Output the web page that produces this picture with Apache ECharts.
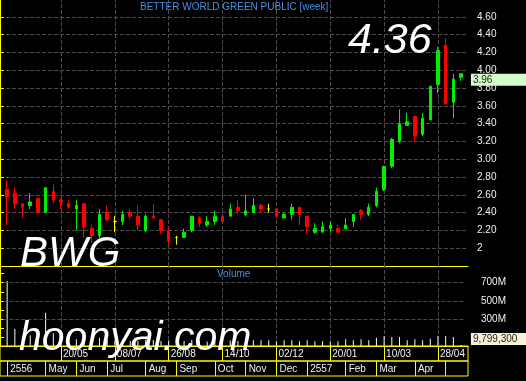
<!DOCTYPE html>
<html><head><meta charset="utf-8">
<script src="https://cdn.jsdelivr.net/npm/echarts@6/dist/echarts.min.js"></script>
<style>html,body{margin:0;padding:0;background:#000;}#c{width:526px;height:381px;}</style>
</head><body><div id="c"></div>
<script>
// ---- data (weekly candles, Thai broker chart) ----
const weeks = ['01/04/13','08/04/13','15/04/13','22/04/13','29/04/13','06/05/13','13/05/13','20/05/13','27/05/13','03/06/13',
 '10/06/13','17/06/13','24/06/13','01/07/13','08/07/13','15/07/13','22/07/13','29/07/13','05/08/13','12/08/13',
 '19/08/13','26/08/13','02/09/13','09/09/13','16/09/13','23/09/13','30/09/13','07/10/13','14/10/13','21/10/13',
 '28/10/13','04/11/13','11/11/13','18/11/13','25/11/13','02/12/13','09/12/13','16/12/13','23/12/13','30/12/13',
 '06/01/14','13/01/14','20/01/14','27/01/14','03/02/14','10/02/14','17/02/14','24/02/14','03/03/14','10/03/14',
 '17/03/14','24/03/14','31/03/14','07/04/14','14/04/14','21/04/14','28/04/14','05/05/14','12/05/14','19/05/14'];
const openP  = [2.66,2.62,2.50,2.48,2.56,2.40,2.64,2.54,2.50,2.44, 2.50,2.22,2.14,2.40,2.30,2.30,2.40,2.36,2.20,2.36,
 2.32,2.20,2.12,2.12,2.20,2.34,2.26,2.30,2.36,2.36, 2.46,2.38,2.40,2.48,2.44,2.44,2.34,2.38,2.46,2.36,
 2.18,2.18,2.22,2.22,2.22,2.30,2.42,2.38,2.48,2.66, 2.92,3.20,3.38,3.48,3.28,3.44,3.84,4.28,3.64,3.92];
const closeP = [2.58,2.50,2.46,2.52,2.40,2.68,2.54,2.52,2.46,2.48, 2.24,2.14,2.38,2.32,2.30,2.38,2.36,2.26,2.36,2.34,
 2.20,2.08,2.12,2.18,2.36,2.28,2.30,2.36,2.30,2.44, 2.42,2.42,2.48,2.44,2.44,2.36,2.38,2.46,2.38,2.24,
 2.22,2.24,2.26,2.18,2.26,2.38,2.38,2.46,2.64,2.92, 3.22,3.40,3.42,3.26,3.46,3.82,4.22,3.62,3.90,3.96];
const lowP   = [2.26,2.44,2.34,2.44,2.40,2.40,2.50,2.44,2.44,2.20, 2.12,2.06,2.10,2.30,2.18,2.26,2.32,2.20,2.18,2.34,
 2.16,2.04,2.04,2.12,2.18,2.24,2.24,2.26,2.30,2.36, 2.38,2.36,2.40,2.40,2.40,2.36,2.34,2.32,2.26,2.16,
 2.16,2.18,2.18,2.18,2.22,2.24,2.32,2.36,2.46,2.64, 2.90,3.18,3.38,3.20,3.26,3.44,3.74,3.62,3.46,3.88];
const highP  = [2.76,2.68,2.50,2.62,2.56,2.68,2.72,2.56,2.54,2.54, 2.50,2.26,2.44,2.48,2.36,2.42,2.44,2.48,2.38,2.50,
 2.32,2.24,2.14,2.22,2.36,2.36,2.36,2.42,2.36,2.50, 2.54,2.60,2.56,2.50,2.50,2.44,2.40,2.50,2.46,2.36,
 2.28,2.30,2.30,2.26,2.34,2.38,2.44,2.50,2.68,2.92, 3.24,3.56,3.52,3.48,3.52,3.82,4.26,4.36,3.96,3.96];
const volumeM = [719,189,95,120,110,367,140,80,70,75, 75,85,90,65,60,75,55,55,70,65,
 55,60,50,55,65,55,50,60,55,60, 55,63,63,63,63,52,63,63,52,63,
 52,52,52,52,74,63,74,63,92,110, 100,100,63,74,63,81,110,110,100,9.7993];
const gridWeeks = ['20/05/13','08/07/13','26/08/13','14/10/13','02/12/13','20/01/14','10/03/14','28/04/14'];
const monthStarts = ['01/04/13','06/05/13','03/06/13','01/07/13','05/08/13','02/09/13','07/10/13','04/11/13','02/12/13','30/12/13','03/02/14','03/03/14','07/04/14','05/05/14'];
const monthNames  = ['2556','May','Jun','Jul','Aug','Sep','Oct','Nov','Dec','2557','Feb','Mar','Apr',''];
const priceTicks = [2.0,2.2,2.4,2.6,2.8,3.0,3.2,3.4,3.6,3.8,4.0,4.2,4.4,4.6];
const volTicksM = [300,500,700];
const lastPrice = 3.96;
const lastVolume = 9799300;

// ---- chart ----
const FONT = '"Liberation Sans", Arial, sans-serif';
const YEL = '#ffff00';
const GREEN = '#00ee00', RED = '#ff0000';
const CL = 3.3, CR = 61.1;     // candle band area
const FL = 0, FR = 58;         // frame (axis line at x=468)
const NOLINE = {color: 'rgba(0,0,0,0)', width: 0};
function dash() { return {color: '#4c4c4c', type: 'dashed'}; }

const gridSet = new Set(gridWeeks.map(w => weeks.indexOf(w)));
const monthIdx = monthStarts.map(w => weeks.indexOf(w));
const candleData = weeks.map((w, i) => [openP[i], closeP[i], lowP[i], highP[i]]);
const volData = volumeM.map(v => v * 1e6);

function grid(left, right, top, height, extra) {
  return Object.assign({left, right, top, height, outerBoundsMode: 'none', containLabel: false}, extra || {});
}
function hiddenValueX(gi) {
  return {type: 'value', gridIndex: gi, min: 0, max: 1, show: true,
    axisLine: {show: false}, axisTick: {show: false}, axisLabel: {show: false}, splitLine: {show: false}};
}
function hiddenY(gi, min, max) {
  return {type: 'value', gridIndex: gi, min, max, show: false, splitLine: {show: false}};
}

const option = {
  backgroundColor: '#000',
  animation: false,
  title: [
    {text: 'BETTER WORLD GREEN PUBLIC [week]', left: 140, top: 2, padding: 0,
     textStyle: {color: '#4a8fe0', fontSize: 10, fontWeight: 'normal', fontFamily: FONT}},
    {text: 'Volume', left: 217, top: 269, padding: 0,
     textStyle: {color: '#4a8fe0', fontSize: 10, fontWeight: 'normal', fontFamily: FONT}},
    {text: '4.36', left: 348, top: 20, padding: 0,
     textStyle: {color: '#ffffff', fontSize: 43, fontStyle: 'italic', fontWeight: 'normal', fontFamily: FONT}},
    {text: 'BWG', left: 20, top: 233, padding: 0,
     textStyle: {color: '#ffffff', fontSize: 42, fontStyle: 'italic', fontWeight: 'normal', fontFamily: FONT}},
    {text: 'hoonyai.com', left: 19, top: 318, padding: 0,
     textStyle: {color: '#ffffff', fontSize: 41, fontStyle: 'italic', fontWeight: 'normal', fontFamily: FONT}}
  ],
  grid: [
    grid(FL, FR, -1, 267),          // 0 price frame
    grid(CL, CR, -1, 267),          // 1 candles
    grid(FL, FR, 266, 80),          // 2 volume frame
    grid(CL, CR, 266, 80),          // 3 volume bars
    grid(FL, FR, 346, 15, {show: true, borderColor: YEL, borderWidth: 1, backgroundColor: 'transparent'}), // 4 row1 frame
    grid(CL, CR, 346, 15),          // 5 row1 labels
    grid(FL, FR, 361, 15, {show: true, borderColor: YEL, borderWidth: 1, backgroundColor: 'transparent'}), // 6 row2 frame
    grid(CL, CR, 361, 15)           // 7 row2 labels
  ],
  xAxis: [
    Object.assign(hiddenValueX(0), {axisLine: {show: true, lineStyle: {color: YEL}}}),
    {type: 'category', gridIndex: 1, data: weeks, boundaryGap: true,
     axisLine: {show: false}, axisLabel: {show: false},
     axisTick: {show: true, inside: true, alignWithLabel: true, length: 267,
       interval: (i) => gridSet.has(i), lineStyle: dash()}},
    Object.assign(hiddenValueX(2), {axisLine: {show: true, lineStyle: {color: YEL}}}),
    {type: 'category', gridIndex: 3, data: weeks, boundaryGap: true,
     axisLine: {show: false}, axisLabel: {show: false},
     axisTick: {show: true, inside: true, alignWithLabel: true, length: 80,
       interval: (i) => gridSet.has(i), lineStyle: dash()}},
    hiddenValueX(4),
    {type: 'category', gridIndex: 5, data: weeks, boundaryGap: true, position: 'bottom',
     axisLine: {show: false},
     axisTick: {show: true, inside: true, alignWithLabel: true, length: 15,
       interval: (i) => gridSet.has(i), lineStyle: {color: YEL}},
     axisLabel: {show: true, inside: true, margin: 2, interval: (i) => gridSet.has(i),
       formatter: (v) => v.slice(0, 5), align: 'left', padding: [0, 0, 0, 2],
       color: '#f0f0f0', fontSize: 10, fontFamily: FONT}},
    hiddenValueX(6),
    {type: 'category', gridIndex: 7, data: weeks, boundaryGap: true, position: 'bottom',
     axisLine: {show: false},
     axisTick: {show: true, inside: true, alignWithLabel: true, length: 15,
       interval: (i) => monthIdx.includes(i), lineStyle: {color: YEL}},
     axisLabel: {show: true, inside: true, margin: 2, interval: (i) => monthIdx.includes(i),
       formatter: (v, i) => monthNames[monthIdx.indexOf(i)] || '', align: 'left', padding: [0, 0, 0, 3],
       color: '#f0f0f0', fontSize: 10, fontFamily: FONT}}
  ],
  yAxis: [
    {type: 'value', gridIndex: 0, position: 'right', min: 1.8, max: 4.8, interval: 0.2,
     axisLine: {show: true, lineStyle: {color: YEL}},
     axisTick: {show: true, length: 4, lineStyle: {color: YEL}},
     axisLabel: {show: true, margin: 9, color: '#f0f0f0', fontSize: 10, fontFamily: FONT,
       showMinLabel: false, showMaxLabel: false,
       formatter: (v) => {
         const t = priceTicks.find(p => Math.abs(p - v) < 1e-6);
         if (t === undefined) return '';
         return Math.abs(t - 2) < 1e-6 ? '2' : t.toFixed(2);
       }},
     splitLine: {show: true, showMinLine: false, lineStyle: dash()}},
    hiddenY(1, 1.8, 4.8),
    {type: 'value', gridIndex: 2, position: 'right', min: 0, max: 885e6, interval: 1e8,
     axisLine: {show: true, lineStyle: {color: YEL}},
     axisTick: {show: true, length: 4, lineStyle: {color: YEL}},
     axisLabel: {show: true, margin: 13, color: '#f0f0f0', fontSize: 10, fontFamily: FONT,
       showMinLabel: false, showMaxLabel: false,
       formatter: (v) => volTicksM.includes(Math.round(v / 1e6)) ? Math.round(v / 1e6) + 'M' : ''},
     splitLine: {show: false}},
    hiddenY(3, 0, 885e6),
    hiddenY(4, 0, 1),
    hiddenY(5, 0, 1),
    hiddenY(6, 0, 1),
    hiddenY(7, 0, 1)
  ],
  series: [
    {type: 'candlestick', xAxisIndex: 1, yAxisIndex: 1, data: candleData, barWidth: 3,
     itemStyle: {color: GREEN, color0: RED, borderColor: GREEN, borderColor0: RED,
       borderColorDoji: YEL, borderWidth: 1},
     markLine: {silent: true, symbol: ['none', 'none'], animation: false,
       lineStyle: NOLINE,
       label: {show: true, position: 'end', distance: 6, formatter: () => lastPrice.toFixed(2),
         color: '#202020', fontSize: 10, fontFamily: FONT, backgroundColor: '#d4fcc8',
         padding: [1, 2, 1, 2], width: 52, verticalAlign: 'top', align: 'left', opacity: 1},
       data: [{yAxis: lastPrice}]}},
    {type: 'bar', xAxisIndex: 3, yAxisIndex: 3, data: volData, barWidth: 1,
     itemStyle: {color: '#fafaf0'},
     markLine: {silent: true, symbol: ['none', 'none'], animation: false,
       data: volTicksM.map(v => ({yAxis: v * 1e6, lineStyle: dash(), label: {show: false}}))
         .concat([{yAxis: lastVolume, lineStyle: NOLINE,
           label: {show: true, position: 'end', distance: 6,
             formatter: () => lastVolume.toLocaleString('en-US'),
             color: '#202020', fontSize: 10, fontFamily: FONT, backgroundColor: '#f8f2d4',
             padding: [1, 2, 1, 2], width: 52, verticalAlign: 'bottom', align: 'left', opacity: 1}}])}}
  ]
};
const chart = echarts.init(document.getElementById('c'), null, {renderer: 'canvas'});
chart.setOption(option);
</script>
</body></html>
